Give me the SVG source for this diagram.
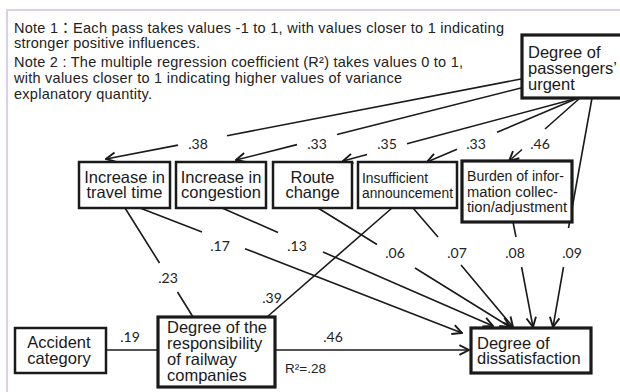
<svg xmlns="http://www.w3.org/2000/svg" width="620" height="392" viewBox="0 0 620 392">
<defs>
<style>
.box{fill:#fff;stroke:#1a1a1a;stroke-width:2.5}
.thick{stroke-width:3.2}
.t{font-family:"Liberation Sans",Arial,sans-serif;font-size:16.5px;fill:#1a1a1a}
.ts{font-family:"Liberation Sans",Arial,sans-serif;font-size:15.5px;fill:#1a1a1a}
.mid{text-anchor:middle}
.note{font-family:"Liberation Sans","Noto Sans CJK JP",sans-serif;font-size:14.5px;fill:#222}
.lbl{font-family:Lato,"Open Sans",sans-serif;font-size:14px;text-anchor:middle;fill:#222}
.c{fill:none;stroke:#1a1a1a;stroke-width:1.6}
</style>
<marker id="ah" markerUnits="userSpaceOnUse" markerWidth="12" markerHeight="12" viewBox="0 0 10 10" refX="9" refY="5" orient="auto">
<path d="M1,1 L9,5 L1,9" fill="none" stroke="#1a1a1a" stroke-width="1.6"/>
</marker>
</defs>
<rect width="620" height="392" fill="#fff"/>
<path d="M7,392 V10 H620" fill="none" stroke="#dcd0e6" stroke-width="2"/>
<g id="notes" class="note">
<text x="14" y="33" textLength="490">Note 1：Each pass takes values -1 to 1, with values closer to 1 indicating</text>
<text x="14" y="48" textLength="186">stronger positive influences.</text>
<text x="14" y="67" textLength="449">Note 2 : The multiple regression coefficient (R²) takes values 0 to 1,</text>
<text x="14" y="83" textLength="388">with values closer to 1 indicating higher values of variance</text>
<text x="14" y="99" textLength="138">explanatory quantity.</text>
</g>
<g id="connectors" class="c">
<path d="M521,79 L227,135.7 M178,145.1 L106,159" marker-end="url(#ah)"/>
<path d="M521,88 L337,134.5 M297,144.6 L236,160" marker-end="url(#ah)"/>
<path d="M578,98 L407,143.8 M367,154.5 L343,161" marker-end="url(#ah)"/>
<path d="M578,98 L497,132.3 M457,149.3 L427,162" marker-end="url(#ah)"/>
<path d="M580,98 L545,129 M522,149.5 L509,161" marker-end="url(#ah)"/>
<path d="M592,98 L568.5,228 M563.5,267 L553,327" marker-end="url(#ah)"/>
<path d="M513,222 L516,237 M521.6,267 L533,327" marker-end="url(#ah)"/>
<path d="M413,208 L438,237 M461,265 L513,327" marker-end="url(#ah)"/>
<path d="M318,208 L377,244.5 M415,268 L510,327" marker-end="url(#ah)"/>
<path d="M222,208 L278,232.4 M323,252 L493,326" marker-end="url(#ah)"/>
<path d="M140,208 L202,232 M245,248.7 L462,333" marker-end="url(#ah)"/>
<path d="M125,208 L159.5,263 M177.5,292 L193,317"/>
<path d="M267,317 L392,208"/>
<path d="M106,350 L158,350"/>
<path d="M275,350 L469,350" marker-end="url(#ah)"/>
</g>
<g id="labels" class="lbl">
<text x="198" y="149">.38</text>
<text x="317" y="149">.33</text>
<text x="387" y="149">.35</text>
<text x="476" y="149">.33</text>
<text x="540" y="149">.46</text>
<text x="220" y="251">.17</text>
<text x="297" y="251">.13</text>
<text x="395" y="258">.06</text>
<text x="457" y="258">.07</text>
<text x="515" y="258">.08</text>
<text x="572" y="258">.09</text>
<text x="168" y="283">.23</text>
<text x="272" y="303">.39</text>
<text x="130" y="342">.19</text>
<text x="333" y="342">.46</text>
</g>
<text x="285" y="373" style="font-family:'Liberation Sans',Arial,sans-serif;font-size:13.5px;fill:#222">R²=.28</text>
<g id="passengers">
<rect class="box thick" x="522" y="35" width="102" height="63"/>
<text class="t" x="528" y="58">Degree of<tspan x="528" dy="16">passengers’</tspan><tspan x="528" dy="16">urgent</tspan></text>
</g>
<g id="travel">
<rect class="box" x="79" y="162" width="91" height="46"/>
<text class="t mid" x="124.5" y="183">Increase in<tspan x="124.5" dy="15">travel time</tspan></text>
</g>
<g id="congestion">
<rect class="box" x="176" y="162" width="90" height="46"/>
<text class="t mid" x="221" y="183">Increase in<tspan x="221" dy="15">congestion</tspan></text>
</g>
<g id="route">
<rect class="box" x="273" y="162" width="79" height="46"/>
<text class="t mid" x="312.5" y="183">Route<tspan x="312.5" dy="15">change</tspan></text>
</g>
<g id="insufficient">
<rect class="box" x="358" y="162" width="99" height="46"/>
<text class="ts" x="362" y="183"><tspan textLength="66" lengthAdjust="spacingAndGlyphs">Insufficient</tspan><tspan x="362" dy="15" textLength="91" lengthAdjust="spacingAndGlyphs">announcement</tspan></text>
</g>
<g id="burden">
<rect class="box thick" x="462" y="161" width="110" height="61"/>
<text class="ts" x="467" y="181"><tspan textLength="97" lengthAdjust="spacingAndGlyphs">Burden of infor-</tspan><tspan x="467" dy="15.5" textLength="91" lengthAdjust="spacingAndGlyphs">mation collec-</tspan><tspan x="467" dy="15.5" textLength="100" lengthAdjust="spacingAndGlyphs">tion/adjustment</tspan></text>
</g>
<g id="accident">
<rect class="box" x="15" y="328" width="91" height="45"/>
<text class="t mid" x="59" y="348">Accident<tspan x="59" dy="15.5">category</tspan></text>
</g>
<g id="responsibility">
<rect class="box thick" x="158" y="317" width="117" height="70"/>
<text class="t" x="167" y="333">Degree of the<tspan x="167" dy="16">responsibility</tspan><tspan x="167" dy="16">of railway</tspan><tspan x="167" dy="16">companies</tspan></text>
</g>
<g id="dissatisfaction">
<rect class="box thick" x="471" y="328" width="120" height="45"/>
<text class="t" x="477" y="349">Degree of<tspan x="477" dy="15">dissatisfaction</tspan></text>
</g>
</svg>
